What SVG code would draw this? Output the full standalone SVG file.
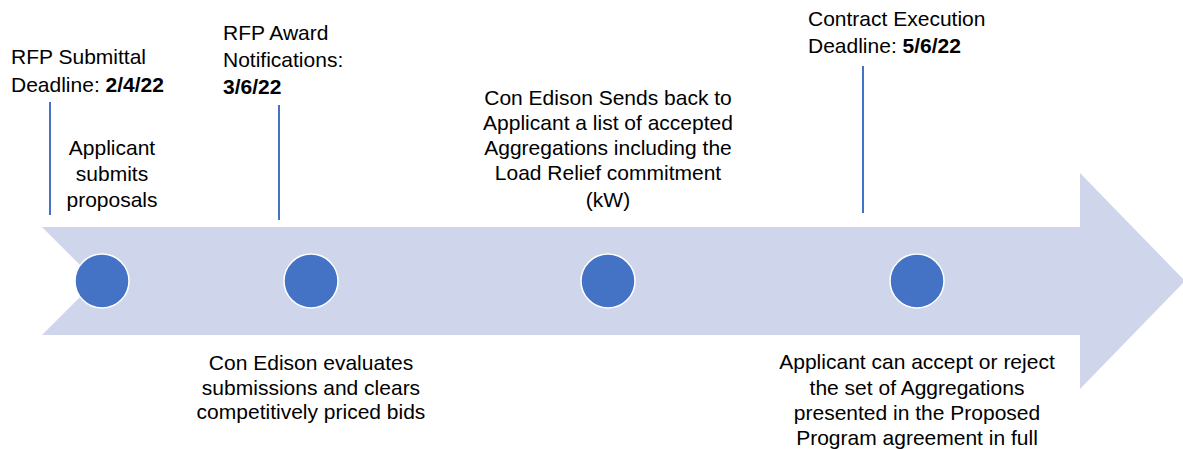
<svg xmlns="http://www.w3.org/2000/svg" width="1183" height="449" viewBox="0 0 1183 449">
<style>
.t{font-family:"Liberation Sans",Arial,sans-serif;font-size:21px;fill:#000}
.c{text-anchor:middle}
.b{font-weight:bold}
.dot{fill:#4472C4;stroke:#fff;stroke-width:1.5}
.tick{stroke:#4472C4;stroke-width:2}
</style>
<rect width="1183" height="449" fill="#fff"/>
<g id="arrow">
<path d="M42,227 L1080,227 L1080,173 L1185,281 L1080,389 L1080,335 L42,335 L96,281 Z" fill="#CFD5EA"/>
</g>
<g id="connectors">
<line class="tick" x1="50" y1="102" x2="50" y2="215"/>
<line class="tick" x1="279" y1="105" x2="279" y2="220"/>
<line class="tick" x1="863" y1="66" x2="863" y2="213"/>
</g>
<g id="milestone1">
<circle class="dot" cx="102" cy="281" r="27"/>
<text class="t" x="11" y="64">RFP Submittal</text>
<text class="t" x="11" y="92">Deadline: <tspan class="b">2/4/22</tspan></text>
<text class="t c" x="112" y="155">Applicant</text>
<text class="t c" x="112" y="181">submits</text>
<text class="t c" x="112" y="207">proposals</text>
</g>
<g id="milestone2">
<circle class="dot" cx="311" cy="281" r="27"/>
<text class="t" x="223" y="40">RFP Award</text>
<text class="t" x="223" y="67">Notifications:</text>
<text class="t b" x="223" y="94">3/6/22</text>
<text class="t c" x="311" y="370">Con Edison evaluates</text>
<text class="t c" x="311" y="395">submissions and clears</text>
<text class="t c" x="311" y="419">competitively priced bids</text>
</g>
<g id="milestone3">
<circle class="dot" cx="608" cy="281" r="27"/>
<text class="t c" x="608" y="105">Con Edison Sends back to</text>
<text class="t c" x="608" y="130">Applicant a list of accepted</text>
<text class="t c" x="608" y="155">Aggregations including the</text>
<text class="t c" x="608" y="180">Load Relief commitment</text>
<text class="t c" x="608" y="207">(kW)</text>
</g>
<g id="milestone4">
<circle class="dot" cx="917" cy="281" r="27"/>
<text class="t" x="808" y="26">Contract Execution</text>
<text class="t" x="808" y="53">Deadline: <tspan class="b">5/6/22</tspan></text>
<text class="t c" x="917" y="369">Applicant can accept or reject</text>
<text class="t c" x="917" y="395">the set of Aggregations</text>
<text class="t c" x="917" y="420">presented in the Proposed</text>
<text class="t c" x="917" y="445">Program agreement in full</text>
</g>
</svg>
